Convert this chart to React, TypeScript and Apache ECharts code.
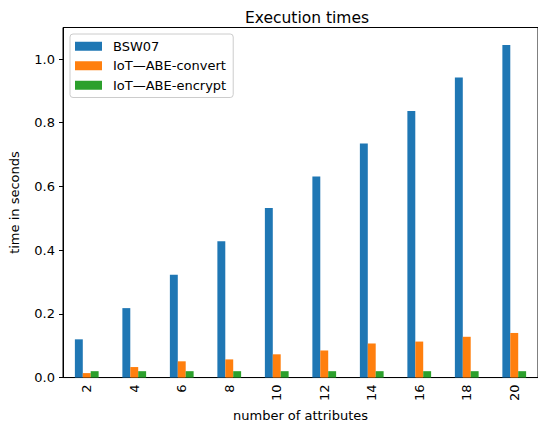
import React, { useEffect, useRef } from "react";
import * as echarts from "echarts";

const categories = ["2", "4", "6", "8", "10", "12", "14", "16", "18", "20"];
const bsw07 = [0.12, 0.218, 0.323, 0.428, 0.532, 0.631, 0.735, 0.837, 0.942, 1.044];
const iotConvert = [0.014, 0.033, 0.051, 0.057, 0.073, 0.085, 0.107, 0.113, 0.128, 0.14];
const iotEncrypt = [0.02, 0.02, 0.02, 0.02, 0.02, 0.02, 0.02, 0.02, 0.02, 0.02];
const seriesNames = ["BSW07", "IoT—ABE-convert", "IoT—ABE-encrypt"];
const colors = ["#1f77b4", "#ff7f0e", "#2ca02c"];

const FONT = "DejaVu Sans";

export default function App() {
  const ref = useRef<HTMLDivElement>(null);
  useEffect(() => {
    if (!ref.current) return;
    const chart = echarts.init(ref.current, null, { renderer: "svg" });
    const data = [bsw07, iotConvert, iotEncrypt];
    chart.setOption({
      animation: false,
      textStyle: { fontFamily: FONT },
      title: {
        text: "Execution times",
        left: 302,
        textAlign: "center",
        top: 5,
        textStyle: { fontFamily: FONT, fontSize: 15.5, fontWeight: "normal", color: "#000" },
      },
      legend: {
        orient: "vertical",
        left: 70,
        top: 34,
        padding: [5, 7, 5, 5],
        itemWidth: 27,
        itemHeight: 9,
        itemGap: 5,
        icon: "rect",
        backgroundColor: "rgba(255,255,255,0.8)",
        borderColor: "#cccccc",
        borderWidth: 1,
        borderRadius: 3,
        textStyle: { fontFamily: FONT, fontSize: 13, color: "#000", lineHeight: 14.5, padding: [0, 0, 0, 6] },
        data: seriesNames,
      },
      grid: { left: 63, right: -4, top: 27.5, bottom: 43, show: true, borderColor: "#000", borderWidth: 1 },
      xAxis: {
        type: "category",
        data: categories,
        name: "number of attributes",
        nameLocation: "middle",
        nameGap: 30,
        nameTextStyle: { fontFamily: FONT, fontSize: 13, color: "#000" },
        axisLine: { lineStyle: { color: "#000", width: 1 } },
        axisTick: { alignWithLabel: true, length: 4, lineStyle: { color: "#000" } },
        axisLabel: { rotate: 90, fontFamily: FONT, fontSize: 13, color: "#000", margin: 7 },
      },
      yAxis: {
        type: "value",
        min: 0,
        max: 1.099,
        interval: 0.2,
        name: "time in seconds",
        nameLocation: "middle",
        nameGap: 42,
        nameTextStyle: { fontFamily: FONT, fontSize: 13, color: "#000" },
        axisLine: { show: true, lineStyle: { color: "#000", width: 1 } },
        axisTick: { show: true, length: 4, lineStyle: { color: "#000" } },
        splitLine: { show: false },
        axisLabel: {
          fontFamily: FONT,
          fontSize: 13,
          color: "#000",
          margin: 8,
          showMaxLabel: false,
          formatter: (v: number) => v.toFixed(1),
        },
      },
      series: seriesNames.map((name, i) => ({
        name,
        type: "bar",
        data: data[i],
        itemStyle: { color: colors[i] },
        barGap: "0%",
        barCategoryGap: "50%",
      })),
    });
    return () => chart.dispose();
  }, []);
  return (
    <div
      ref={ref}
      style={{ position: "absolute", left: 0, top: 0, width: 538, height: 427, background: "#fff" }}
    />
  );
}
